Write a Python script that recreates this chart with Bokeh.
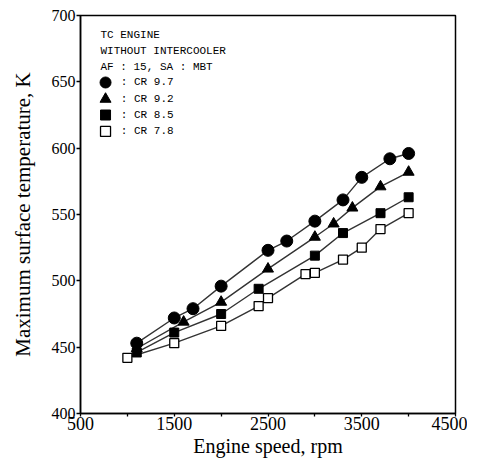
from bokeh.plotting import figure
from bokeh.models import FixedTicker, Range1d
from bokeh.core.properties import value
from bokeh.embed import file_html
from bokeh.resources import INLINE

# Data
rpm_97 = [1100, 1500, 1700, 2000, 2500, 2700, 3000, 3300, 3500, 3800, 4000]
t_97 = [453, 472, 479, 496, 523, 530, 545, 561, 578, 592, 596]

rpm_92 = [1100, 1600, 2000, 2500, 3000, 3200, 3400, 3700, 4000]
t_92 = [449, 469, 484, 509, 533, 543, 555, 571, 582]

rpm_85 = [1100, 1500, 2000, 2400, 3000, 3300, 3700, 4000]
t_85 = [446, 461, 475, 494, 519, 536, 551, 563]

rpm_78 = [1000, 1500, 2000, 2400, 2500, 2900, 3000, 3300, 3500, 3700, 4000]
t_78 = [442, 453, 466, 481, 487, 505, 506, 516, 525, 539, 551]

x_ticks = [500, 1000, 1500, 2000, 2500, 3000, 3500, 4000, 4500]
x_unlabeled = [1000, 2000, 3000, 4000]
y_ticks = [400, 450, 500, 550, 600, 650, 700]

header_lines = ["TC ENGINE", "WITHOUT INTERCOOLER", "AF : 15, SA : MBT"]
legend_labels = [": CR 9.7", ": CR 9.2", ": CR 8.5", ": CR 7.8"]

p = figure(frame_width=375, frame_height=398,
           min_border_left=80, min_border_right=12,
           min_border_top=15, min_border_bottom=44,
           x_range=Range1d(500, 4500), y_range=Range1d(400, 700),
           output_backend="svg", toolbar_location=None)

p.grid.visible = False
p.outline_line_color = "black"
p.outline_line_width = 1.5
p.background_fill_color = "white"
p.border_fill_color = "white"

serif = "Liberation Serif"
p.xaxis.ticker = FixedTicker(ticks=x_ticks)
p.xaxis.major_label_overrides = {t: "" for t in x_unlabeled}
p.yaxis.ticker = FixedTicker(ticks=y_ticks)
p.xaxis.axis_label = "Engine speed, rpm"
p.yaxis.axis_label = "Maximum surface temperature, K"
for ax in (p.xaxis, p.yaxis):
    ax.axis_label_text_font = serif
    ax.axis_label_text_font_style = "normal"
    ax.major_label_text_font = serif
    ax.axis_line_color = "black"
    ax.axis_line_width = 1.5
    ax.major_tick_line_color = "black"
    ax.major_tick_line_width = 1.3
    ax.major_label_text_color = "black"
    ax.axis_label_text_color = "black"
    ax.minor_tick_in = 0
    ax.minor_tick_out = 0

p.xaxis.axis_label_text_font_size = "20px"
p.yaxis.axis_label_text_font_size = "21px"

p.xaxis.major_label_text_font_size = "18px"
p.xaxis.major_tick_in = 0
p.xaxis.major_tick_out = 3
p.xaxis.major_label_standoff = 0
p.xaxis.axis_label_standoff = 2

p.yaxis.major_label_text_font_size = "16px"
p.yaxis.major_tick_in = 0
p.yaxis.major_tick_out = 4
p.yaxis.major_label_standoff = 1
p.yaxis.axis_label_standoff = 14

lc = "#333333"
lw = 1.4
p.line(rpm_97, t_97, line_color=lc, line_width=lw)
p.line(rpm_92, t_92, line_color=lc, line_width=lw)
p.line(rpm_85, t_85, line_color=lc, line_width=lw)
p.line(rpm_78, t_78, line_color=lc, line_width=lw)

p.scatter(rpm_97, t_97, marker="circle", size=12, fill_color="black", line_color="black")
p.scatter(rpm_92, t_92, marker="triangle", size=11, fill_color="black", line_color="black")
p.scatter(rpm_85, t_85, marker="square", size=9, fill_color="black", line_color="black")
p.scatter(rpm_78, t_78, marker="square", size=9, fill_color="white", line_color="black", line_width=1.3)

# In-plot legend block (top left)
mono = value("Liberation Mono")
hx = 713
hy = [685, 673, 661]
p.text(x=[hx] * len(header_lines), y=hy, text=header_lines,
       text_font=mono, text_font_size="11px", text_baseline="middle",
       text_align="left", text_color="black")

my = [649.5, 637, 625, 612.6]
mx = 767
p.scatter([mx], [my[0]], marker="circle", size=11, fill_color="black", line_color="black")
p.scatter([mx], [my[1]], marker="triangle", size=11, fill_color="black", line_color="black")
p.scatter([mx], [my[2]], marker="square", size=10, fill_color="black", line_color="black")
p.scatter([mx], [my[3]], marker="square", size=10, fill_color="white", line_color="black", line_width=1.3)
p.text(x=[930] * len(legend_labels), y=my, text=legend_labels,
       text_font=mono, text_font_size="11px", text_baseline="middle",
       text_align="left", text_color="black")

open("out.html", "w").write(file_html(p, INLINE))
